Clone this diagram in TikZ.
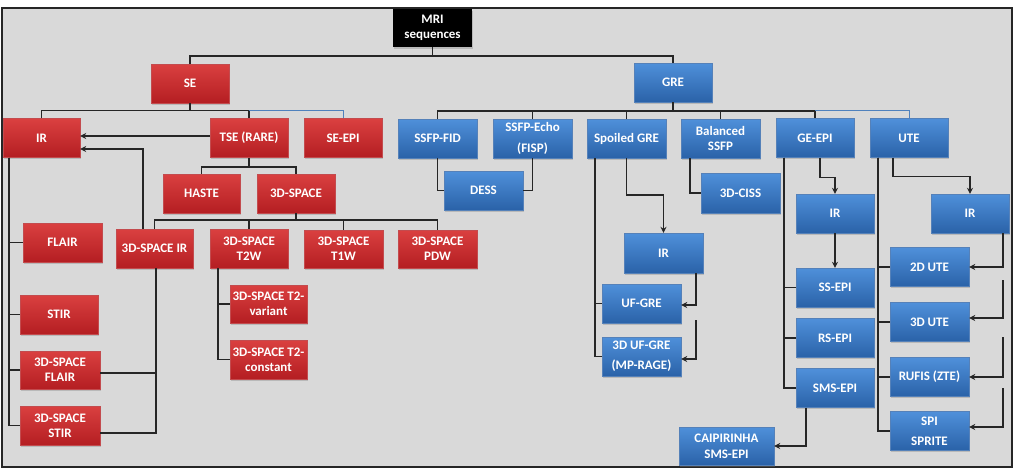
\documentclass[tikz,border=0pt]{standalone}
\usepackage{fontspec}
\newfontfamily\boxfont{Carlito}
\usetikzlibrary{arrows.meta,shadows,calc}
\definecolor{redT}{HTML}{DA4040}
\definecolor{redB}{HTML}{B41E22}
\definecolor{bluT}{HTML}{4F90DA}
\definecolor{bluB}{HTML}{2A62A8}
\definecolor{panel}{HTML}{D9D9D9}
\definecolor{lineblue}{HTML}{4F81BD}
\tikzset{
  base/.style={minimum width=78pt, minimum height=39pt, inner sep=0.5pt, align=center, text=white,
    font=\boxfont\bfseries\fontsize{13}{15}\selectfont,
    drop shadow={opacity=0.35, shadow xshift=1.2pt, shadow yshift=-1.5pt}},
  rbox/.style={base, top color=redT, bottom color=redB, draw=redB!80!white, line width=0.4pt},
  bbox/.style={base, top color=bluT, bottom color=bluB, draw=bluB!80!white, line width=0.4pt},
  kbox/.style={base, fill=black, minimum width=79pt, minimum height=38pt, drop shadow={opacity=0}},
  conn/.style={draw=black!85, line width=1.5pt},
  bconn/.style={draw=lineblue, line width=1pt},
  arr/.style={conn, -{Stealth[length=6pt,width=6pt]}},
}
\begin{document}
\begin{tikzpicture}[x=1pt,y=-1pt]
\useasboundingbox (0,0) rectangle (1018,475);
\fill[white] (0,0) rectangle (1018,475);
\draw[fill=panel, line width=2pt, draw=black!85] (2,8) rectangle (1012,467);

% nodes
\node[kbox] (mri) at (432.5,28) {MRI\\sequences};
\node[rbox] (se) at (190,83.5) {SE};
\node[bbox] (gre) at (673,82.5) {GRE};

\node[rbox, minimum width=77pt] (ir) at (41.5,138) {IR};
\node[rbox] (tse) at (249,138) {TSE (RARE)};
\node[rbox] (seepi) at (343,138) {SE-EPI};
\node[bbox, minimum width=79pt] (ssfpfid) at (437.5,138.5) {SSFP-FID};
\node[bbox, minimum width=79pt] (ssfpecho) at (532.5,138.5) {SSFP-Echo\\[6pt](FISP)};
\node[bbox, minimum width=79pt] (spoiled) at (626.5,138.5) {Spoiled GRE};
\node[bbox, minimum width=79pt] (balanced) at (720.5,138.5) {Balanced\\SSFP};
\node[bbox] (geepi) at (815,138) {GE-EPI};
\node[bbox] (ute) at (909,138) {UTE};

\node[bbox, minimum width=79pt] (dess) at (483.5,190.5) {DESS};
\node[bbox, minimum width=79pt, minimum height=40pt] (ciss) at (740.5,193) {3D-CISS};
\node[bbox, minimum width=79pt, minimum height=40pt] (irg) at (663.5,253) {IR};
\node[bbox, minimum width=79pt] (ufgre) at (641.5,303.5) {UF-GRE};
\node[bbox, minimum width=79pt] (mprage) at (641.5,356.5) {3D UF-GRE\\[5pt](MP-RAGE)};

\node[bbox] (irepi) at (835,213.5) {IR};
\node[bbox] (ssepi) at (835,287.5) {SS-EPI};
\node[bbox] (rsepi) at (835,338) {RS-EPI};
\node[bbox] (smsepi) at (835,388) {SMS-EPI};
\node[bbox, minimum width=95pt, minimum height=38pt] (caip) at (726.5,446) {CAIPIRINHA\\[1pt]SMS-EPI};

\node[bbox] (irute) at (970,213.5) {IR};
\node[bbox, minimum width=79pt] (ute2d) at (929.5,267) {2D UTE};
\node[bbox, minimum width=79pt] (ute3d) at (929.5,322) {3D UTE};
\node[bbox, minimum width=79pt] (rufis) at (929.5,377) {RUFIS (ZTE)};
\node[bbox, minimum width=79pt] (spi) at (929.5,431) {SPI\\[5pt]SPRITE};

\node[rbox, minimum width=77pt] (haste) at (201.5,193.5) {HASTE};
\node[rbox] (space) at (296,193.5) {3D-SPACE};
\node[rbox, minimum width=77pt] (spir) at (154.5,248.5) {3D-SPACE IR};
\node[rbox] (t2w) at (249,248.5) {3D-SPACE\\T2W};
\node[rbox, minimum width=79pt, minimum height=38pt] (t1w) at (343.5,249) {3D-SPACE\\T1W};
\node[rbox, minimum width=79pt, minimum height=38pt] (pdw) at (437.5,249) {3D-SPACE\\PDW};
\node[rbox, minimum width=77pt, minimum height=38pt] (t2var) at (268.5,304) {3D-SPACE T2-\\variant};
\node[rbox, minimum width=77pt] (t2con) at (268.5,359.5) {3D-SPACE T2-\\constant};

\node[rbox, minimum width=79pt] (flair) at (62.5,242.5) {FLAIR};
\node[rbox] (stir) at (59,314.5) {STIR};
\node[rbox, minimum width=80pt, minimum height=38pt] (spflair) at (60,370) {3D-SPACE\\FLAIR};
\node[rbox, minimum width=80pt] (spstir) at (60,425.5) {3D-SPACE\\STIR};

% connectors: top level
\coordinate (b0) at (432.5,56);
\draw[conn] (mri.south) -- (b0);
\draw[conn] (se.north) -- ++(0,-8) -| (gre.north);

% SE branch
\draw[conn] (se.south) -- ++(0,8);
\draw[conn] (ir.north) -- ++(0,-8) -| (tse.north);
\draw[bconn] (tse.north) ++(0,-8) -| (seepi.north);
\draw[arr] ([yshift=2pt]tse.west) -- ([yshift=2pt]tse.west -| ir.east);
\draw[arr] ([xshift=-11.5pt]spir.north) |- ([yshift=-11pt]ir.east);
\draw[conn] (tse.south) -- ++(0,10);
\draw[conn] (haste.north) -- ++(0,-7) -| (space.north);
\draw[conn] (space.south) -- ++(0,7);
\draw[conn] (spir.north) -- ++(0,-9) -| (pdw.north);
\draw[conn] (t2w.north) -- ++(0,-9);
\draw[conn] (t1w.north) -- ++(0,-10);
\draw[conn] ([xshift=-31pt]t2w.south) |- (t2var.west);
\draw[conn] ([xshift=-31pt]t2w.south) |- (t2con.west);
\draw[conn] ([xshift=-32.5pt]ir.south) |- (flair.west);
\draw[conn] ([xshift=-32.5pt]ir.south) |- (stir.west);
\draw[conn] ([xshift=-32.5pt]ir.south) |- (spflair.west);
\draw[conn] ([xshift=-32.5pt]ir.south) |- (spstir.west);
\draw[conn] ([xshift=1.5pt]spir.south) |- ([yshift=-3pt]spflair.east);
\draw[conn] ([xshift=1.5pt]spir.south) |- ([yshift=-7.5pt]spstir.east);

% GRE branch
\draw[conn] (gre.south) -- ++(0,9);
\draw[conn] (ssfpfid.north) -- ++(0,-8) -| (geepi.north);
\draw[conn] (ssfpecho.north) -- ++(0,-8);
\draw[conn] (spoiled.north) -- ++(0,-8);
\draw[conn] (balanced.north) -- ++(0,-8);
\draw[bconn] (geepi.north) ++(0,-8) -| (ute.north);
\draw[conn] (ssfpfid.south) |- (dess.west);
\draw[conn] (ssfpecho.south) |- (dess.east);
\draw[conn] ([xshift=-30.5pt]balanced.south) |- (ciss.west);
\draw[conn] ([xshift=-31.5pt]spoiled.south) |- (ufgre.west);
\draw[conn] ([xshift=-31.5pt]spoiled.south) |- (mprage.west);
\draw[arr] (spoiled.south) -- ++(0,37) -| (irg.north);
\draw[arr] ([xshift=32.5pt]irg.south) |- ([yshift=-1.5pt]ufgre.east);
\draw[arr] ([xshift=32.5pt]irg.south) ++(0,47) |- ([yshift=-2.5pt]mprage.east);

\draw[conn] ([xshift=-31pt]geepi.south) |- (ssepi.west);
\draw[conn] ([xshift=-31pt]geepi.south) |- (rsepi.west);
\draw[conn] ([xshift=-31pt]geepi.south) |- (smsepi.west);
\draw[arr] ([xshift=5pt]geepi.south) -- ++(0,20) -| (irepi.north);
\draw[arr] (irepi.south) -- (ssepi.north);
\draw[arr] ([xshift=-29pt]smsepi.south) |- (caip.east);

\draw[conn] ([xshift=-31pt]ute.south) |- (ute2d.west);
\draw[conn] ([xshift=-31pt]ute.south) |- (ute3d.west);
\draw[conn] ([xshift=-31pt]ute.south) |- (rufis.west);
\draw[conn] ([xshift=-31pt]ute.south) |- (spi.west);
\draw[arr] ([xshift=-16pt]ute.south) -- ++(0,19) -| (irute.north);
\draw[arr] ([xshift=33pt]irute.south) |- (ute2d.east);
\draw[arr] ([xshift=33pt]irute.south) ++(0,47) |- ([yshift=4pt]ute3d.east);
\draw[arr] ([xshift=33pt]irute.south) ++(0,104) |- (rufis.east);
\draw[arr] ([xshift=33pt]irute.south) ++(0,155) |- ([yshift=4pt]spi.east);
\end{tikzpicture}
\end{document}
